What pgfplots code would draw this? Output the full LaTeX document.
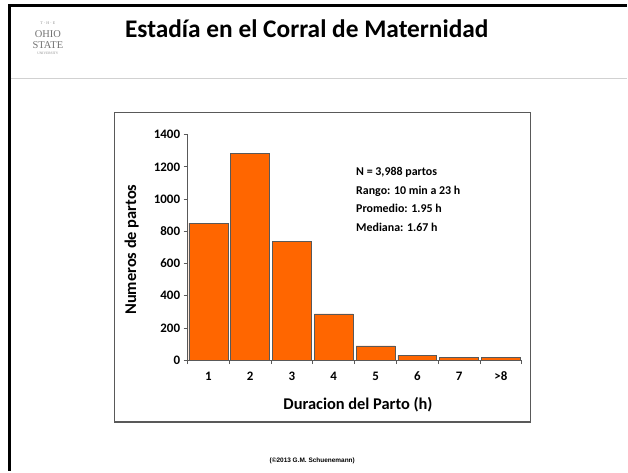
\documentclass[border=0pt]{standalone}
\usepackage{fontspec}
\setmainfont{Carlito}
\newfontfamily\arialb{Liberation Sans}
\newfontfamily\logofont{Liberation Serif}
\usepackage{pgfplots}
\pgfplotsset{compat=1.18}
\definecolor{barorange}{HTML}{FF6600}
\definecolor{axgray}{HTML}{595959}
\begin{document}
\begin{tikzpicture}[x=1bp,y=1bp]
% page
\path[fill=white] (0,0) rectangle (628,472);
% slide border
\draw[line width=3bp,black] (9.5,0) -- (9.5,466.5) -- (628,466.5);
\draw[line width=1bp,black!18] (11,393) -- (628,393);
% logo
\node[text=black!45,font=\logofont\fontsize{4}{4}\selectfont] at (48,449) {T\,$\cdot$\,H\,$\cdot$\,E};
\node[text=black!55,font=\logofont\fontsize{10.5}{10.5}\selectfont,inner sep=0pt] at (48,437.5) {OHIO};
\node[text=black!55,font=\logofont\fontsize{10.5}{10.5}\selectfont,inner sep=0pt] at (48,427) {STATE};
\node[text=black!45,font=\logofont\fontsize{3.5}{3.5}\selectfont,inner sep=0pt] at (48,418) {UNIVERSITY};
% title
\node[anchor=base,font=\bfseries\fontsize{25.5}{30}\selectfont,inner sep=0pt] at (307.5,434) {Estadía en el Corral de Maternidad};
% chart frame
\draw[line width=1.4bp,axgray] (115,49) rectangle (532,359);
\begin{axis}[
  at={(188bp,111bp)}, anchor=south west,
  scale only axis, width=335bp, height=226bp,
  xmin=0.5, xmax=8.5, ymin=0, ymax=1400,
  axis x line*=bottom, axis y line*=left,
  axis line style={axgray, line width=1bp},
  xtick={0.5,1.5,...,8.5},
  x tick label as interval,
  xticklabels={1,2,3,4,5,6,7,>8},
  ytick={0,200,...,1400},
  tick align=outside,
  major tick length=4bp,
  tick style={axgray, line width=0.8bp},
  /pgf/number format/assume math mode=true,
  /pgf/number format/1000 sep={},
  tick label style={font=\bfseries\fontsize{13}{13}\selectfont},
  xticklabel style={yshift=-4bp},
  xlabel={Duracion del Parto (h)},
  ylabel={Numeros de partos},
  label style={font=\bfseries\fontsize{16.5}{16.5}\selectfont},
  xlabel style={at={(axis description cs:0.51,-0.199)}, anchor=center},
  ylabel style={at={(axis description cs:-0.167,0.49)}, anchor=center},
  clip=false,
]
\addplot[ybar, bar width=39bp, fill=barorange, draw=black!65, line width=0.6bp]
  coordinates {(1,850) (2,1285) (3,735) (4,287) (5,88) (6,29) (7,15) (8,15)};
\node[anchor=north west, align=left, inner sep=0pt,
  font=\bfseries\fontsize{12}{19}\selectfont]
  at (rel axis cs:0.504,0.858) {N = 3,988 partos\\Rango: 10 min a 23 h\\Promedio: 1.95 h\\Mediana: 1.67 h};
\end{axis}
% copyright
\node[font=\arialb\bfseries\fontsize{6.5}{6.5}\selectfont] at (313,10) {(©2013 G.M. Schuenemann)};
\end{tikzpicture}
\end{document}
